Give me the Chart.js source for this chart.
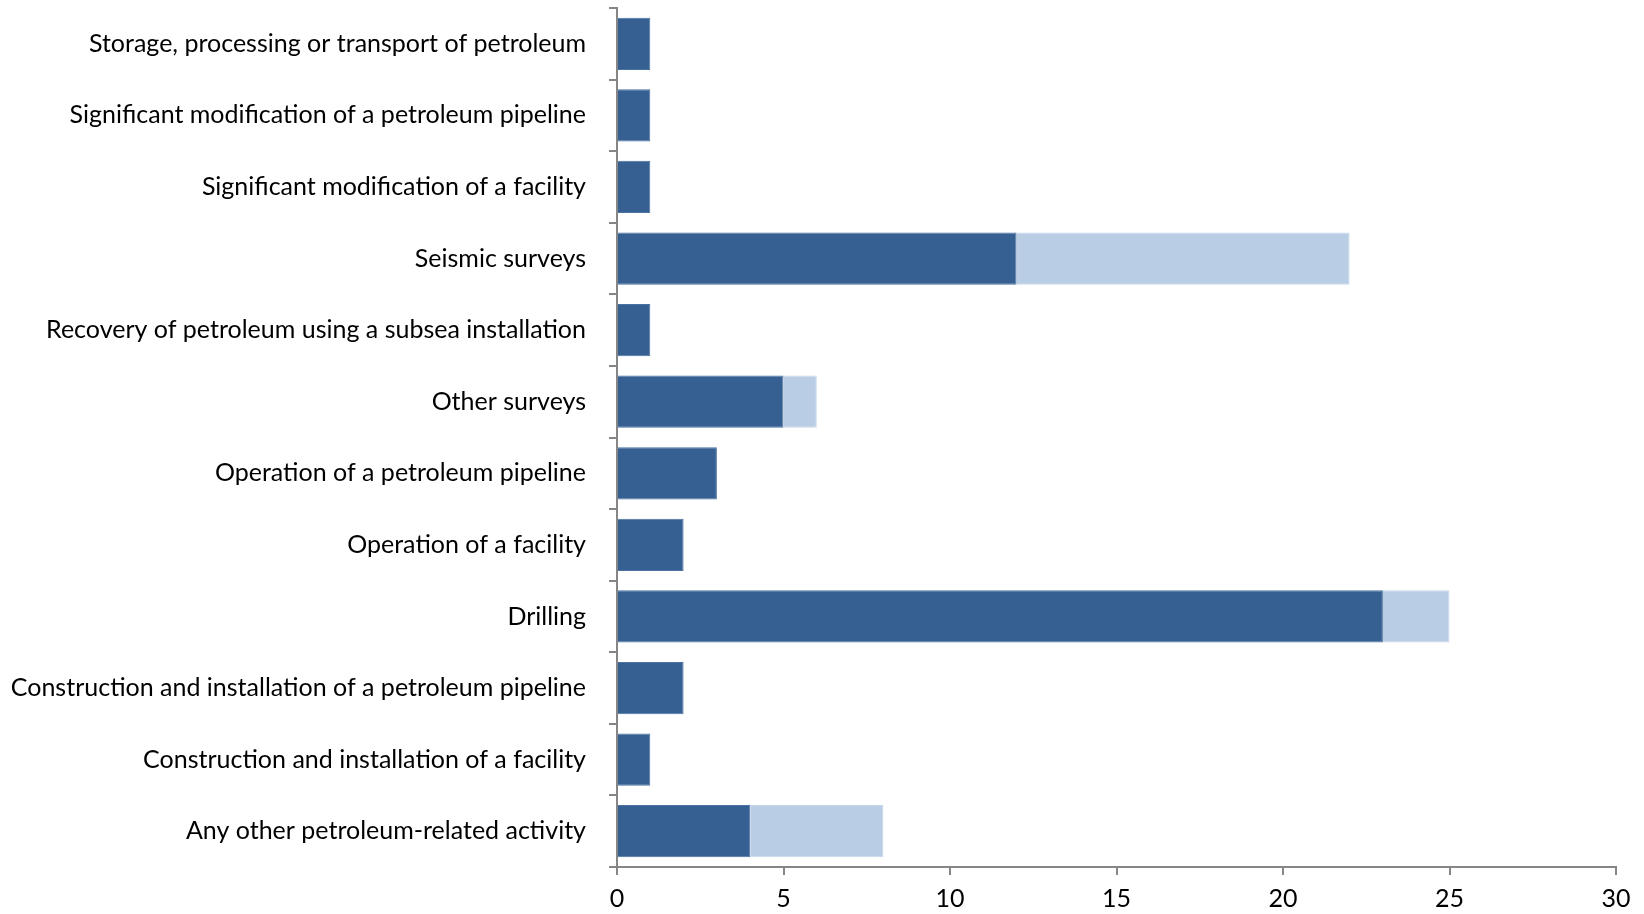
<!DOCTYPE html>
<html>
<head>
<meta charset="utf-8">
<script src="https://cdn.jsdelivr.net/npm/chart.js@4"></script>
<style>
  html, body { margin: 0; padding: 0; background: #ffffff; }
  #wrap { width: 1644px; height: 914px; }
</style>
</head>
<body>
<div id="wrap"><canvas id="barChart" width="1644" height="914"></canvas></div>
<script>
// Activity types, listed top to bottom
var activities = [
    'Storage, processing or transport of petroleum',
    'Significant modification of a petroleum pipeline',
    'Significant modification of a facility',
    'Seismic surveys',
    'Recovery of petroleum using a subsea installation',
    'Other surveys',
    'Operation of a petroleum pipeline',
    'Operation of a facility',
    'Drilling',
    'Construction and installation of a petroleum pipeline',
    'Construction and installation of a facility',
    'Any other petroleum-related activity'
];
var firstSeries = [1, 1, 1, 12, 1, 5, 3, 2, 23, 2, 1, 4];
var secondSeries = [0, 0, 0, 10, 0, 1, 0, 0, 2, 0, 0, 4];
var xTicks = [0, 5, 10, 15, 20, 25, 30];

window.onload = function () {
    graficoBarras();
}

function graficoBarras() {
    var ctx = document.getElementById("barChart").getContext("2d");
    var fonte = { family: 'Lato', size: 25 };
    var cinza = '#868686';

    new Chart(ctx, {
        type: 'bar',
        data: {
            labels: activities,
            datasets: [
                {
                    data: firstSeries,
                    backgroundColor: '#376092',
                    borderColor: '#4a72a2',
                    borderWidth: 1,
                    categoryPercentage: 1,
                    barPercentage: 0.73
                },
                {
                    data: secondSeries,
                    backgroundColor: '#b9cde5',
                    borderColor: '#c8d8ec',
                    borderWidth: 1,
                    categoryPercentage: 1,
                    barPercentage: 0.73
                }
            ]
        },
        options: {
            indexAxis: 'y',
            responsive: false,
            animation: false,
            layout: { padding: { top: 8, right: 28, left: 0, bottom: 0 } },
            plugins: {
                legend: { display: false },
                tooltip: { enabled: false }
            },
            scales: {
                x: {
                    stacked: true,
                    min: 0,
                    max: 30,
                    afterBuildTicks: function (axis) {
                        axis.ticks = xTicks.map(function (v) { return { value: v }; });
                    },
                    afterFit: function (axis) {
                        axis.height = 47;
                        axis.paddingLeft = 0;
                        axis.paddingRight = 0;
                    },
                    border: { color: cinza, width: 2 },
                    grid: {
                        drawOnChartArea: false,
                        tickLength: 8,
                        color: cinza,
                        lineWidth: 2
                    },
                    ticks: {
                        color: '#000000',
                        font: fonte,
                        padding: 9,
                        maxRotation: 0
                    }
                },
                y: {
                    stacked: true,
                    afterFit: function (axis) {
                        // rótulos ficam no meio das faixas, sem folga extra em cima/baixo
                        axis.width = 617;
                        axis.paddingTop = 0;
                        axis.paddingBottom = 0;
                    },
                    border: { color: cinza, width: 2 },
                    grid: {
                        offset: true,
                        drawOnChartArea: false,
                        tickLength: 8,
                        color: cinza,
                        lineWidth: 2
                    },
                    ticks: {
                        color: '#000000',
                        font: fonte,
                        padding: 23,
                        autoSkip: false
                    }
                }
            }
        }
    });
}
</script>
</body>
</html>
